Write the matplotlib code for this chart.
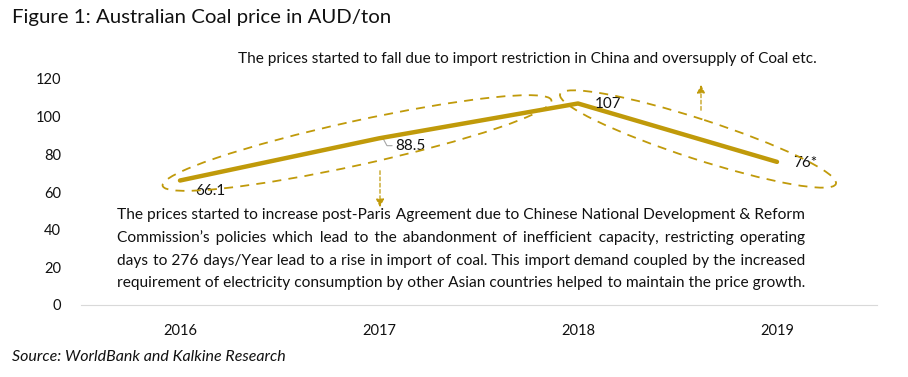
import matplotlib.pyplot as plt
from matplotlib.patches import Ellipse, FancyArrowPatch

plt.rcParams['font.family'] = ['Lato', 'DejaVu Sans']

years = ['2016', '2017', '2018', '2019']
prices = [66.1, 88.5, 107, 76]
labels = ['66.1', '88.5', '107', '76*']

gold = '#C09A0A'
W, H = 908, 377

fig = plt.figure(figsize=(W / 100, H / 100), dpi=100)
ax = fig.add_axes([80.5 / W, 1 - 305 / H, 796 / W, 226 / H])

x = range(len(years))
ax.plot(x, prices, color=gold, lw=3.2, solid_capstyle='round', zorder=3)
ax.set_xlim(-0.5, len(years) - 0.5)
ax.set_ylim(0, 120)
ax.set_yticks(range(0, 121, 20))
ax.set_xticks(list(x))
ax.set_xticklabels(years)
ax.tick_params(length=0, labelsize=10.5, colors='#111111')
ax.tick_params(axis='y', pad=14)
ax.tick_params(axis='x', pad=14)
for s in ['top', 'right', 'left']:
    ax.spines[s].set_visible(False)
ax.spines['bottom'].set_color('#d9d9d9')

# data labels
offs = [(10.8, -7.2), (11.5, -5.8), (12.2, -0.7), (11.5, -0.7)]
for i, (v, t) in enumerate(zip(prices, labels)):
    ax.annotate(t, (i, v), xytext=offs[i], textcoords='offset points',
                fontsize=11, ha='left', va='center', color='#111111')
ax.plot([1.02, 1.04, 1.065], [88.5, 84.6, 84.6], color='#a6a6a6', lw=0.8)

# overlay in pixel coordinates for the annotation shapes
ov = fig.add_axes([0, 0, 1, 1], facecolor='none')
ov.set_xlim(0, W)
ov.set_ylim(H, 0)
ov.axis('off')

ov.add_patch(Ellipse((357, 143), 398, 44, angle=-12.4, fill=False,
                     ec=gold, lw=1.3, ls=(0, (5, 4))))
ov.add_patch(Ellipse((698, 139), 290, 40, angle=18.0, fill=False,
                     ec=gold, lw=1.3, ls=(0, (5, 4))))
ov.add_patch(FancyArrowPatch((380, 168), (380, 210), arrowstyle='-|>',
                             mutation_scale=12, color=gold, lw=0.9, ls=(0, (3, 2))))
ov.add_patch(FancyArrowPatch((701, 113), (701, 82), arrowstyle='-|>',
                             mutation_scale=12, color=gold, lw=0.9, ls=(0, (3, 2))))

fig.text(12 / W, 1 - 18 / H, 'Figure 1: Australian Coal price in AUD/ton',
         fontsize=14.7, va='center', ha='left', color='#111111')
fig.text(238 / W, 1 - 59 / H,
         'The prices started to fall due to import restriction in China and oversupply of Coal etc.',
         fontsize=11.1, va='center', ha='left', color='#111111')
fig.text(12 / W, 1 - 357 / H, 'Source: WorldBank and Kalkine Research',
         fontsize=11.5, style='italic', va='center', ha='left', color='#111111')

note = [
    'The prices started to increase post-Paris Agreement due to Chinese National Development & Reform',
    'Commission\u2019s policies which lead to the abandonment of inefficient capacity, restricting operating',
    'days to 276 days/Year lead to a rise in import of coal. This import demand coupled by the increased',
    'requirement of electricity consumption by other Asian countries helped to maintain the price growth.',
]

# justified paragraph: pad the gaps with hair spaces so each line fills the box
fig.canvas.draw()
r = fig.canvas.get_renderer()
x0, x1 = 117, 805


def text_width(s, size):
    t = ov.text(0, 0, s, fontsize=size)
    w = t.get_window_extent(r).width
    t.remove()
    return w


fs = 11 * (x1 - x0) / text_width(note[0], 11)
hair = (text_width('x' + '\u200a' * 20 + 'x', fs) - text_width('xx', fs)) / 20
for k, line in enumerate(note):
    words = line.split(' ')
    n = len(words) - 1
    extra = max(0.0, (x1 - x0) - text_width(line, fs)) / n
    s = words[0]
    for i in range(n):
        cnt = round(extra * (i + 1) / hair) - round(extra * i / hair) if hair > 0 else 0
        s += ' ' + '\u200a' * cnt + words[i + 1]
    ov.text(x0, 219.5 + k * 22.5, s, fontsize=fs, va='baseline', ha='left',
            color='#111111')

fig.savefig('out.png', dpi=100)
